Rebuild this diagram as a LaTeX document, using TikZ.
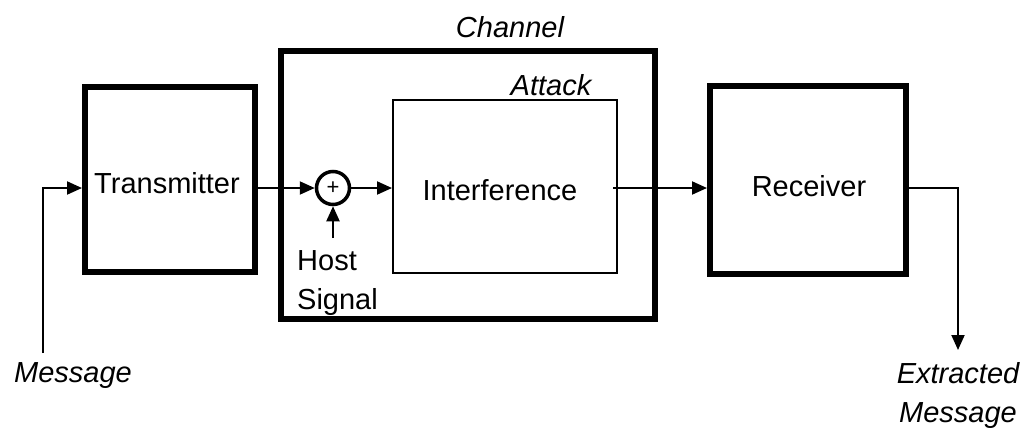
\documentclass[tikz,border=0pt]{standalone}
\usepackage{fontspec}
\setmainfont{Liberation Sans}
\usetikzlibrary{arrows.meta}
\begin{document}
\begin{tikzpicture}[x=1pt,y=-1pt,
  every node/.style={inner sep=0pt, font=\fontsize{29}{36}\selectfont},
  thickbox/.style={draw, line width=6pt, rectangle},
  thinbox/.style={draw, line width=2pt, rectangle},
  arr/.style={line width=2pt, -{Triangle[length=15pt,width=13pt]}},
  lbl/.style={font=\fontsize{29}{36}\selectfont\itshape}]
  \useasboundingbox (0,0) rectangle (1034,429);

  % blocks
  \node[thickbox, minimum width=170pt, minimum height=185pt] (tx) at (170,179.5) {};
  \node (txt) at (167,183) {Transmitter};
  \node[thickbox, minimum width=374pt, minimum height=268pt] (ch) at (468,185) {};
  \node[thinbox, minimum width=224pt, minimum height=173pt] (atk) at (505,186.5) {};
  \node at (500,190) (intf) {Interference};
  \node[thickbox, minimum width=196pt, minimum height=188pt] (rx) at (808,180) {};
  \node at (809,186) (rxt) {Receiver};

  % adder
  \node[draw, circle, line width=3.5pt, minimum size=33pt] (add) at (333,188) {\fontsize{22}{22}\selectfont +};

  % labels
  \node[lbl] (chl) at (510,27) {Channel};
  \node[lbl] (atl) at (551,85) {Attack};
  \node[lbl] (msg) at (73,376) {Message};
  \node[lbl, align=center, anchor=north, font=\fontsize{29}{39}\selectfont\itshape] (emsg) at (958,362) {Extracted\\Message};
  \node[align=left, anchor=north west, font=\fontsize{29}{39}\selectfont] (host) at (297,250) {Host\\Signal};

  % connection points
  \coordinate (msgtail) at (43,353);
  \coordinate (hosttail) at (333,238);
  \coordinate (atkout) at (613,188);
  \coordinate (emsgtip) at (958,350);

  % signal flow
  \draw[arr] (msgtail) |- (tx.west |- add);
  \draw[arr] (tx.east |- add) -- (add.west);
  \draw[arr] (add.east) -- (atk.west |- add);
  \draw[arr] (hosttail) -- (add.south);
  \draw[arr] (atkout) -- (rx.west |- atkout);
  \draw[arr] (rx.east |- atkout) -| (emsgtip);
\end{tikzpicture}
\end{document}
